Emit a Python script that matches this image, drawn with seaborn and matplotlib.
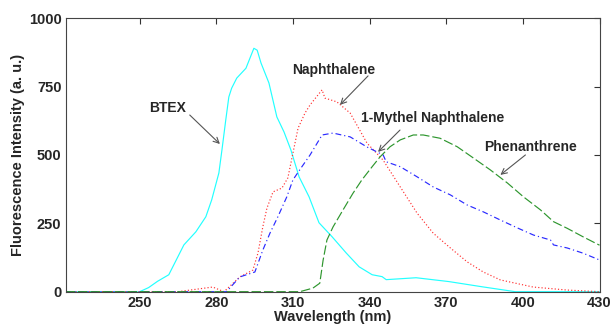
import pandas as pd
import matplotlib
matplotlib.use('Agg')
import matplotlib.pyplot as plt
import seaborn as sns

# Values
btex_wl = [221, 250, 253.5, 257, 261.4, 264, 267.3, 272, 275.9, 278.2, 281, 282.2, 283.7, 284.9,
           286, 288, 291.6, 294.7, 296, 297.5, 300.6, 303.7, 306.5, 309.2, 312.4, 316.3, 320.2,
           325.3, 330.8, 335.9, 341, 344.9, 346.5, 358.2, 371, 384, 397, 430]
btex_val = [0, 0, 15, 38, 62, 110, 171, 219, 274, 336, 434, 518, 628, 712,
            744, 781, 817, 890, 883, 836, 763, 639, 584, 518, 420, 347, 252,
            201, 142, 91, 62, 55, 44, 51, 37, 18, 0, 0]

naph_wl = [221, 265, 278.6, 283, 289.2, 294.3, 296.3, 298.2, 299.8, 302.2, 305.7, 308, 310, 312,
           314.7, 316.7, 319, 321.4, 322.5, 327.2, 332.4, 339, 345.3, 352, 358.6, 364.9, 371.6,
           378.2, 384.5, 391.2, 404, 417.3, 430]
naph_val = [0, 0, 17, 0, 54, 79, 141, 237, 305, 365, 379, 416, 507, 598,
            653, 683, 710, 738, 708, 694, 653, 543, 481, 383, 287, 214, 160,
            109, 72, 43, 17, 6, 0]

mnaph_wl = [221, 284, 289.2, 295.1, 298.2, 301, 304.1, 307.6, 310, 313.5, 316.7, 321.4, 325.7,
            332.4, 339, 345.3, 346.5, 352, 358.6, 364.9, 371.6, 378.2, 384.5, 391.2, 397.9,
            404.2, 410.8, 412, 417.3, 423.5, 430]
mnaph_val = [0, 0, 54, 72, 152, 214, 274, 347, 409, 457, 500, 573, 580,
             566, 529, 500, 475, 457, 420, 383, 354, 317, 292, 262, 233,
             207, 189, 171, 160, 141, 116]

phen_wl = [221, 312.7, 317.8, 320.5, 321.8, 323.3, 325.7, 329.6, 333.5, 337, 341, 344.1, 348,
           352, 357.1, 361, 367.6, 374.3, 380.6, 387.3, 394, 400.2, 406.9, 412, 417.3, 423.5, 430]
phen_val = [0, 0, 13, 31, 115, 189, 237, 299, 360, 409, 457, 493, 530,
            555, 573, 573, 561, 530, 489, 445, 397, 347, 299, 256, 232, 201, 170]

x_ticks = [250, 280, 310, 340, 370, 400, 430]
y_ticks = [0, 250, 500, 750, 1000]

sns.set_style('white')
plt.rcParams['font.family'] = ['Liberation Sans', 'DejaVu Sans']
plt.rcParams['font.weight'] = 'bold'

fig = plt.figure(figsize=(6.13, 3.25), dpi=100)
ax = fig.add_axes([0.107, 0.1025, 0.871, 0.8415])

series = [
    (btex_wl, btex_val, '#22ffff', '-'),
    (naph_wl, naph_val, '#ff3030', (0, (1, 1.8))),
    (mnaph_wl, mnaph_val, '#2a2aff', (0, (5, 2.5, 1, 2.5))),
    (phen_wl, phen_val, '#2e962e', (0, (8, 2.5))),
]
for wl, val, col, ls in series:
    df = pd.DataFrame({'wl': wl, 'val': val})
    sns.lineplot(data=df, x='wl', y='val', ax=ax, color=col, linewidth=0.85,
                 linestyle=ls, estimator=None, sort=False)

ax.set_xlim(221, 430)
ax.set_ylim(0, 1000)
ax.set_xticks(x_ticks)
ax.set_yticks(y_ticks)
ax.tick_params(direction='in', length=4, width=0.8, labelsize=10.5, top=True, right=True,
               color='#333333', pad=3)
for lab in ax.get_xticklabels() + ax.get_yticklabels():
    lab.set_fontweight('bold')
for sp in ax.spines.values():
    sp.set_color('#444444')
    sp.set_linewidth(0.8)

ax.set_xlabel('Wavelength (nm)', fontsize=10.5, fontweight='bold', labelpad=0)
ax.set_ylabel('Fluorescence Intensity (a. u.)', fontsize=10.5, fontweight='bold', labelpad=3)

arrow = dict(arrowstyle='->', color='#555555', lw=0.8, shrinkA=0, shrinkB=0)
ax.annotate('', xy=(281.4, 540), xytext=(269.6, 646), arrowprops=arrow)
ax.text(261, 672, 'BTEX', ha='center', va='center', fontsize=10, fontweight='bold')
ax.annotate('', xy=(328.4, 683), xytext=(339.4, 789), arrowprops=arrow)
ax.text(326, 811, 'Naphthalene', ha='center', va='center', fontsize=10, fontweight='bold')
ax.annotate('', xy=(343.3, 511), xytext=(351.9, 591), arrowprops=arrow)
ax.text(364.5, 635, '1-Mythel Naphthalene', ha='center', va='center', fontsize=10, fontweight='bold')
ax.annotate('', xy=(391.2, 427), xytext=(401, 500), arrowprops=arrow)
ax.text(403, 529, 'Phenanthrene', ha='center', va='center', fontsize=10, fontweight='bold')

fig.savefig('out.png', dpi=100)
